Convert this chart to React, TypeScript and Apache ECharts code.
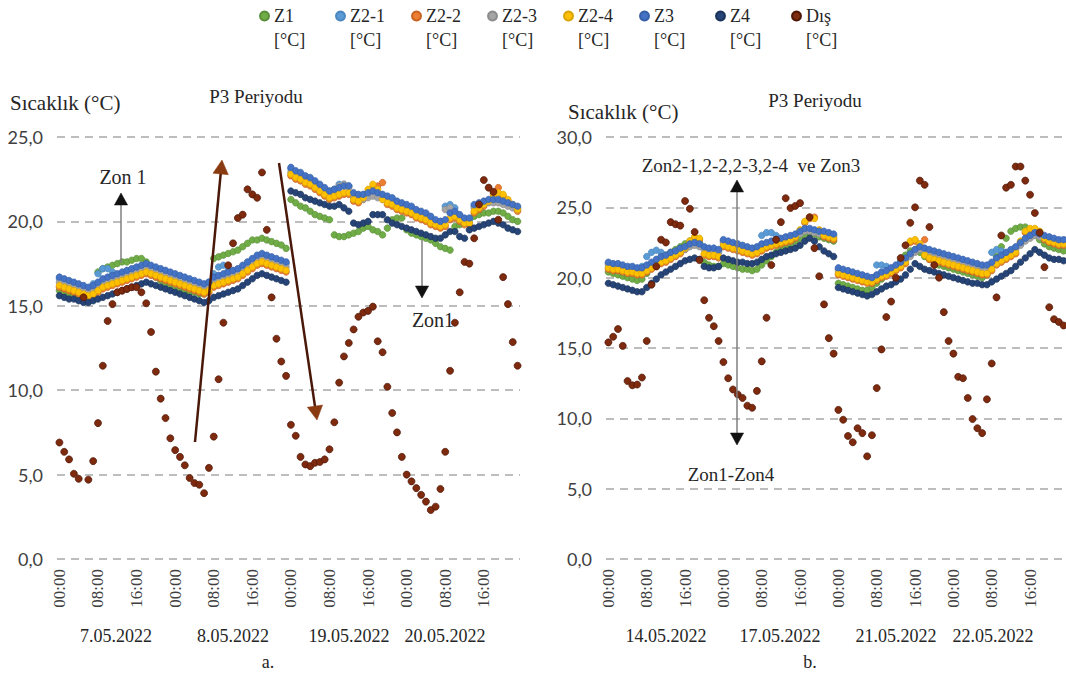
import React, { useEffect, useRef } from 'react';
import * as echarts from 'echarts';

const hourLabels = ['00:00','01:00','02:00','03:00','04:00','05:00','06:00','07:00','08:00','09:00','10:00','11:00','12:00','13:00','14:00','15:00','16:00','17:00','18:00','19:00','20:00','21:00','22:00','23:00'];
const daysA = ['7.05.2022', '8.05.2022', '19.05.2022', '20.05.2022'];
const daysB = ['14.05.2022', '17.05.2022', '21.05.2022', '22.05.2022'];
const seriesNames = ['Z1', 'Z2-1', 'Z2-2', 'Z2-3', 'Z2-4', 'Z3', 'Z4', 'Dış'];
const yTicksA = [0, 5, 10, 15, 20, 25];
const yTicksB = [0, 5, 10, 15, 20, 25, 30];

// ---------- Panel a (7-8.05 / 19-20.05) ----------
const z1A = [
15.9,15.8,15.7,15.6,15.5,15.5,15.4,15.6,17.0,17.2,17.3,17.4,17.5,17.6,17.6,17.7,17.8,17.8,17.6,17.0,16.7,16.5,16.3,16.2,
16.1,16.0,15.9,15.8,15.8,15.7,15.7,16.3,17.8,17.9,18.0,18.1,18.2,18.3,18.5,18.7,18.9,18.9,19.0,18.9,18.8,18.7,18.6,18.4,
21.3,21.1,20.9,20.8,20.6,20.4,20.3,20.2,20.1,19.2,19.1,19.1,19.2,19.3,19.4,19.6,19.7,19.5,19.4,19.2,19.6,20.1,20.2,20.2,
19.5,19.3,19.2,19.1,19.0,18.9,18.7,18.5,18.4,18.3,19.7,19.8,19.9,20.1,20.3,20.4,20.5,20.5,20.6,20.6,20.5,20.3,20.1,20.0];
const z21A = [
16.6,16.5,16.4,16.3,16.2,16.1,16.0,16.3,16.9,17.2,17.2,17.0,16.8,16.9,17.0,17.1,17.2,17.3,17.4,17.3,17.2,17.1,17.0,16.9,
16.8,16.7,16.6,16.5,16.4,16.3,16.2,16.4,16.9,17.3,17.4,17.1,17.0,17.1,17.3,17.5,17.7,17.9,18.0,17.9,17.8,17.7,17.6,17.5,
23.1,22.9,22.8,22.6,22.5,22.3,22.1,21.9,21.8,21.9,22.2,22.2,22.1,21.6,21.5,21.5,21.6,21.7,21.6,21.5,21.4,21.3,21.1,21.0,
20.9,20.8,20.6,20.5,20.4,20.2,20.0,20.0,20.9,21.0,20.8,20.3,20.1,20.1,20.9,21.0,21.1,21.2,21.2,21.2,21.1,21.0,20.9,20.8];
const z22A = [
16.1,16.0,15.9,15.8,15.7,15.6,15.5,15.6,15.8,16.0,16.1,16.2,16.3,16.4,16.5,16.6,16.7,16.8,16.9,16.8,16.7,16.6,16.5,16.4,
16.3,16.2,16.1,16.0,15.9,15.8,15.7,15.8,16.1,16.2,16.3,16.4,16.5,16.6,16.8,17.0,17.2,17.4,17.5,17.4,17.3,17.2,17.1,17.0,
22.7,22.5,22.4,22.2,22.1,21.9,21.7,21.5,21.3,21.4,21.5,21.6,21.6,21.2,21.1,21.3,21.7,22.0,22.1,22.3,21.0,20.9,20.7,20.6,
20.5,20.4,20.2,20.1,20.0,19.8,19.7,19.6,19.7,20.1,20.2,20.0,19.8,19.8,20.5,20.7,20.9,21.2,21.6,22.0,21.5,21.2,20.9,20.6];
const z23A = [
16.4,16.3,16.2,16.1,16.0,15.9,15.8,15.9,16.2,16.4,16.5,16.5,16.6,16.7,16.8,16.9,17.0,17.1,17.2,17.1,17.0,16.9,16.8,16.7,
16.6,16.5,16.4,16.3,16.2,16.1,16.0,16.1,16.5,16.7,16.7,16.7,16.8,16.9,17.1,17.3,17.5,17.7,17.8,17.7,17.6,17.5,17.4,17.3,
22.9,22.7,22.6,22.4,22.3,22.1,21.9,21.7,21.6,21.7,22.1,22.2,22.0,21.4,21.3,21.3,21.4,21.5,21.4,21.3,21.2,21.1,20.9,20.8,
20.7,20.6,20.4,20.3,20.2,20.0,19.9,19.8,20.7,20.8,20.5,20.1,19.9,19.9,20.8,20.9,21.0,21.1,21.1,21.1,21.0,20.9,20.8,20.7];
const z24A = [
16.2,16.1,16.0,15.9,15.8,15.7,15.6,15.7,15.9,16.1,16.2,16.3,16.4,16.5,16.6,16.7,16.8,16.9,17.0,16.9,16.8,16.7,16.6,16.5,
16.4,16.3,16.2,16.1,16.0,15.9,15.8,15.9,16.2,16.3,16.4,16.5,16.6,16.7,16.9,17.1,17.3,17.5,17.6,17.5,17.4,17.3,17.2,17.1,
22.8,22.6,22.5,22.3,22.2,22.0,21.8,21.6,21.4,21.5,21.6,21.7,21.7,21.3,21.2,21.4,21.9,22.2,21.9,21.3,21.1,21.0,20.8,20.7,
20.6,20.5,20.3,20.2,20.1,19.9,19.8,19.7,19.8,20.2,20.3,20.1,19.9,19.9,20.6,20.8,21.0,21.2,21.5,21.7,21.6,21.3,21.0,20.7];
const z3A = [
16.7,16.6,16.5,16.4,16.3,16.2,16.1,16.2,16.4,16.6,16.7,16.8,16.9,17.0,17.1,17.2,17.3,17.4,17.5,17.4,17.3,17.2,17.1,17.0,
16.9,16.8,16.7,16.6,16.5,16.4,16.3,16.4,16.7,16.8,16.9,17.0,17.1,17.2,17.4,17.6,17.8,18.0,18.1,18.0,17.9,17.8,17.7,17.6,
23.2,23.0,22.9,22.7,22.6,22.4,22.2,22.0,21.8,21.9,22.0,22.1,22.1,21.7,21.6,21.6,21.7,21.8,21.7,21.6,21.5,21.4,21.2,21.1,
21.0,20.9,20.7,20.6,20.5,20.3,20.1,20.0,20.1,20.5,20.6,20.4,20.2,20.2,21.0,21.1,21.2,21.3,21.3,21.3,21.2,21.1,21.0,20.9];
const z4A = [
15.6,15.5,15.4,15.4,15.3,15.2,15.2,15.3,15.4,15.5,15.6,15.7,15.8,15.9,16.0,16.1,16.2,16.3,16.4,16.3,16.2,16.1,16.0,15.9,
15.8,15.7,15.6,15.5,15.4,15.3,15.2,15.3,15.5,15.6,15.7,15.8,15.9,16.0,16.2,16.4,16.6,16.8,16.9,16.8,16.7,16.6,16.5,16.4,
21.8,21.7,21.6,21.4,21.3,21.2,21.1,21.0,20.9,20.9,21.0,20.8,20.6,19.9,19.8,19.9,20.0,20.4,20.4,20.4,20.1,19.9,19.8,19.7,
19.6,19.5,19.4,19.3,19.2,19.1,19.0,19.0,19.2,19.4,19.4,19.1,19.0,19.5,19.6,19.7,19.8,19.9,20.0,19.9,19.8,19.6,19.5,19.4];
const disA = [
6.9,6.35,5.9,5.05,4.75,15.5,4.7,5.8,8.05,11.45,14.1,15.1,15.8,15.9,16.0,16.1,16.1,15.8,15.15,13.45,11.1,9.5,8.35,7.15,
6.45,6.05,5.55,4.8,4.5,4.4,3.9,5.4,7.25,10.65,14.0,17.4,18.7,20.2,20.4,21.9,21.6,21.4,22.9,19.5,15.5,13.05,11.7,10.85,
7.95,7.3,6.05,5.6,5.5,5.7,5.75,5.9,6.5,8.1,10.45,12.0,12.8,13.6,14.35,14.6,14.7,14.95,12.9,12.25,10.2,8.65,7.5,6.05,
5.0,4.6,4.2,3.8,3.4,2.9,3.1,4.15,6.35,11.15,14.0,15.8,17.6,17.5,19.0,21.0,22.45,22.0,21.75,20.1,16.7,15.1,12.85,11.45];

// ---------- Panel b (14/17/21/22.05) ----------
const z1B = [
20.4,20.3,20.2,20.1,20.0,19.9,19.8,19.9,20.3,20.7,21.1,21.4,21.6,21.8,22.0,22.2,22.4,22.6,22.7,22.5,21.1,20.9,20.8,20.8,
21.0,20.9,20.8,20.7,20.6,20.6,20.5,20.6,20.9,21.2,21.5,21.8,22.0,22.2,22.4,22.6,22.8,23.0,23.2,23.1,22.9,22.8,22.7,22.6,
19.6,19.5,19.4,19.3,19.2,19.1,19.1,19.3,19.6,19.9,20.2,20.5,20.8,21.2,21.6,21.9,22.0,21.8,21.5,21.3,21.1,20.9,20.8,20.7,
20.6,20.5,20.4,20.3,20.2,20.1,20.0,20.2,20.8,21.5,22.2,22.8,23.3,23.5,23.6,23.6,23.4,23.0,22.7,22.4,22.2,22.1,22.0,21.9];
const z21B = [
21.0,20.9,20.9,20.8,20.7,20.7,20.6,20.8,21.5,21.8,21.95,21.8,21.5,21.7,21.8,22.0,22.1,22.3,22.4,22.3,22.1,22.0,22.0,21.9,
22.6,22.5,22.4,22.3,22.2,22.1,22.0,22.1,23.0,23.2,23.2,23.0,22.7,22.8,22.9,23.0,23.2,23.4,23.4,23.3,23.2,23.2,23.1,23.0,
20.6,20.5,20.4,20.3,20.2,20.1,20.0,20.0,20.9,20.9,20.8,20.6,20.8,21.0,21.3,21.6,21.9,22.1,22.0,21.9,21.8,21.7,21.6,21.5,
21.4,21.3,21.2,21.1,21.0,20.9,20.8,20.8,21.8,22.0,21.9,21.7,21.9,22.1,22.4,22.7,22.9,23.1,23.0,22.9,22.8,22.7,22.6,22.6];
const z22B = [
20.6,20.5,20.5,20.4,20.3,20.3,20.2,20.2,20.4,20.6,20.8,21.0,21.1,21.3,21.5,21.7,22.0,22.5,22.8,22.7,21.6,21.5,21.5,21.4,
22.2,22.1,22.0,21.9,21.8,21.7,21.6,21.7,21.9,22.1,22.2,22.3,22.4,22.5,22.6,22.8,23.3,23.9,24.2,24.3,23.3,22.9,22.8,22.7,
20.2,20.1,20.0,19.9,19.8,19.7,19.6,19.6,19.8,20.0,20.1,20.3,20.5,20.7,21.0,22.5,22.6,22.3,22.7,21.3,21.2,21.1,21.0,20.9,
20.8,20.7,20.6,20.5,20.4,20.3,20.2,20.2,20.5,20.9,21.1,21.3,21.5,21.7,22.5,23.2,23.4,23.4,23.2,22.7,22.5,22.4,22.3,22.3];
const z23B = [
20.9,20.8,20.8,20.7,20.6,20.6,20.5,20.5,20.7,20.9,21.1,21.3,21.4,21.6,21.7,21.9,22.0,22.2,22.3,22.2,22.0,21.9,21.9,21.8,
22.5,22.4,22.3,22.2,22.1,22.0,21.9,22.0,22.2,22.3,22.4,22.5,22.6,22.7,22.8,22.9,23.1,23.3,23.3,23.2,23.1,23.1,23.0,22.9,
20.5,20.4,20.3,20.2,20.1,20.0,19.9,19.8,20.0,20.2,20.3,20.5,20.7,20.9,21.2,21.5,21.8,22.0,21.9,21.8,21.7,21.6,21.5,21.4,
21.3,21.2,21.1,21.0,20.9,20.8,20.7,20.7,20.9,21.2,21.4,21.6,21.8,22.0,22.3,22.6,22.8,23.0,22.9,22.8,22.7,22.6,22.5,22.5];
const z24B = [
20.7,20.6,20.6,20.5,20.4,20.4,20.3,20.3,20.5,20.7,20.9,21.1,21.2,21.4,21.6,21.8,22.1,22.6,22.9,22.8,21.7,21.6,21.6,21.5,
22.3,22.2,22.1,22.0,21.9,21.8,21.7,21.8,22.0,22.2,22.3,22.4,22.5,22.6,22.7,22.9,23.4,24.0,24.3,24.2,23.4,23.0,22.9,22.8,
20.3,20.2,20.1,20.0,19.9,19.8,19.7,19.7,19.9,20.1,20.2,20.4,20.6,20.8,21.1,22.6,22.7,22.4,21.6,21.4,21.3,21.2,21.1,21.0,
20.9,20.8,20.7,20.6,20.5,20.4,20.3,20.3,20.6,21.0,21.2,21.4,21.6,21.8,22.6,23.3,23.5,23.5,23.3,22.8,22.6,22.5,22.4,22.4];
const z3B = [
21.1,21.0,21.0,20.9,20.8,20.8,20.7,20.7,20.9,21.1,21.3,21.5,21.6,21.8,21.9,22.1,22.2,22.4,22.5,22.4,22.2,22.1,22.1,22.0,
22.7,22.6,22.5,22.4,22.3,22.2,22.1,22.2,22.4,22.5,22.6,22.7,22.8,22.9,23.0,23.1,23.3,23.5,23.5,23.4,23.3,23.3,23.2,23.1,
20.7,20.6,20.5,20.4,20.3,20.2,20.1,20.0,20.2,20.4,20.5,20.7,20.9,21.1,21.4,21.7,22.0,22.2,22.1,22.0,21.9,21.8,21.7,21.6,
21.5,21.4,21.3,21.2,21.1,21.0,20.9,20.9,21.1,21.4,21.6,21.8,22.0,22.2,22.5,22.8,23.0,23.2,23.1,23.0,22.9,22.8,22.7,22.7];
const z4B = [
19.6,19.5,19.4,19.3,19.2,19.1,19.0,19.0,19.3,19.6,19.9,20.2,20.4,20.6,20.8,21.0,21.2,21.3,21.4,21.3,20.8,20.7,20.7,20.8,
21.4,21.3,21.2,21.1,21.1,21.0,21.0,21.1,21.3,21.5,21.6,21.7,21.8,21.9,22.0,22.1,22.3,22.6,22.8,22.6,22.2,21.9,21.7,21.5,
19.3,19.2,19.1,19.0,18.9,18.8,18.7,18.8,19.0,19.2,19.4,19.5,19.7,19.9,20.2,20.6,21.0,20.8,20.6,20.5,20.4,20.3,20.2,20.1,
20.0,19.9,19.8,19.7,19.6,19.6,19.5,19.5,19.7,19.9,20.1,20.3,20.5,20.8,21.1,21.4,21.7,22.0,21.8,21.6,21.4,21.3,21.3,21.2];
const disB = [
15.4,15.8,16.35,15.15,12.65,12.35,12.4,12.9,15.5,19.5,20.8,22.7,22.5,23.95,23.8,23.7,25.45,24.9,23.25,21.25,18.4,17.15,16.55,15.5,
14.0,12.85,12.05,11.7,11.45,10.9,10.75,11.95,14.05,17.15,20.9,22.7,23.95,25.65,24.95,25.1,25.3,null,24.3,22.1,20.1,18.1,15.7,14.6,
10.6,9.9,8.75,8.3,9.3,8.95,7.3,8.8,12.15,14.9,17.2,18.3,20.0,21.4,22.3,23.9,25.0,26.9,26.6,23.6,20.9,20.0,17.55,15.5,
14.6,12.95,12.85,11.45,9.95,9.3,8.95,11.35,13.9,18.6,23.0,26.4,26.6,27.9,27.9,26.9,25.9,24.6,23.2,20.75,17.9,17.05,16.85,16.6];

const panelA = [z1A, z21A, z22A, z23A, z24A, z3A, z4A, disA];
const panelB = [z1B, z21B, z22B, z23B, z24B, z3B, z4B, disB];

const COLORS = ['#70AD47', '#5B9BD5', '#ED7D31', '#A5A5A5', '#FFC000', '#4472C4', '#264478', '#7E2A0E'];
const BORDERS = ['#5a8f38', '#4a86bf', '#c8621f', '#8c8c8c', '#d9a300', '#3760a8', '#1b3358', '#4d1606'];
const SERIF = 'Liberation Serif';
const SANS = 'Lato';
const TXT = '#262626';

const legendName = (n: string) => n + '\n[°C]';
const fmt = (v: number) => v.toFixed(1).replace('.', ',');

function arrow(x1: number, y1: number, x2: number, y2: number, lineColor: string, headColor: string, lw: number, head: number, both = false) {
  const els: any[] = [];
  const ang = Math.atan2(y2 - y1, x2 - x1);
  const c = Math.cos(ang), s = Math.sin(ang);
  const w = head * 0.55;
  const mk = (tx: number, ty: number, dirc: number, dirs: number) => ({
    type: 'polygon', z: 20,
    shape: { points: [[tx, ty], [tx - head * dirc + w * dirs, ty - head * dirs - w * dirc], [tx - head * dirc - w * dirs, ty - head * dirs + w * dirc]] },
    style: { fill: headColor, stroke: headColor, lineWidth: 0.5 },
  });
  const sx = both ? x1 + c * head * 0.8 : x1;
  const sy = both ? y1 + s * head * 0.8 : y1;
  els.push({ type: 'line', z: 19, shape: { x1: sx, y1: sy, x2: x2 - c * head * 0.8, y2: y2 - s * head * 0.8 }, style: { stroke: lineColor, lineWidth: lw } });
  els.push(mk(x2, y2, c, s));
  if (both) els.push(mk(x1, y1, -c, -s));
  return els;
}

function text(t: string, x: number, y: number, size: number, align = 'center', family = SERIF) {
  return { type: 'text', z: 21, x, y, style: { text: t, fontSize: size, fontFamily: family, fill: TXT, textAlign: align, textVerticalAlign: 'middle' } };
}

export default function App() {
  const ref = useRef<HTMLDivElement>(null);
  useEffect(() => {
    if (!ref.current) return;
    const chart = echarts.init(ref.current, undefined, { renderer: 'svg' });
    const catsA = daysA.flatMap((d) => hourLabels.map((h) => d + ' ' + h));
    const catsB = daysB.flatMap((d) => hourLabels.map((h) => d + ' ' + h));

    const xAxisBase = (gridIndex: number, data: string[]) => ({
      gridIndex, type: 'category', data, boundaryGap: true,
      axisLine: { show: false }, axisTick: { show: false }, splitLine: { show: false },
      axisLabel: {
        interval: (i: number) => i % 8 === 0,
        formatter: (v: string) => v.split(' ')[1],
        rotate: 90, fontFamily: SERIF, fontSize: 17, color: '#404040', margin: 10,
      },
    });
    const yAxisBase = (gridIndex: number, ticks: number[]) => ({
      gridIndex, type: 'value', min: ticks[0], max: ticks[ticks.length - 1], interval: ticks[1] - ticks[0],
      axisLine: { show: false }, axisTick: { show: false },
      axisLabel: { formatter: fmt, fontFamily: SANS, fontSize: 18, color: '#404040', margin: 14 },
      splitLine: { show: true, lineStyle: { type: [8, 6], color: '#bdbdbd', width: 2 } },
    });

    const series: any[] = [];
    [panelA, panelB].forEach((panel, p) => {
      panel.forEach((arr, i) => {
        series.push({
          name: legendName(seriesNames[i]), type: 'scatter', xAxisIndex: p, yAxisIndex: p,
          data: arr.map((v) => (v == null ? '-' : v)),
          symbol: 'circle', symbolSize: i === 7 ? 7 : 6.5,
          itemStyle: { color: COLORS[i], borderColor: BORDERS[i], borderWidth: 0.7, opacity: 1 },
          emphasis: { disabled: true },
        });
      });
    });

    const graphic: any[] = [
      text('Sıcaklık (°C)', 10, 103, 21, 'left'),
      text('Sıcaklık (°C)', 568, 112, 21, 'left'),
      text('P3 Periyodu', 256, 96, 19),
      text('P3 Periyodu', 815, 100, 19),
      text('a.', 268, 662, 18),
      text('b.', 810, 662, 18),
      text('Zon 1', 123, 177, 20),
      text('Zon1', 433, 320, 20),
      text('Zon2-1,2-2,2-3,2-4  ve Zon3', 751, 165, 19),
      text('Zon1-Zon4', 731, 474, 19),
    ];
    const datePosA = [116, 233, 349, 445];
    const datePosB = [666, 780, 896, 993];
    daysA.forEach((d, i) => graphic.push(text(d, datePosA[i], 636, 18)));
    daysB.forEach((d, i) => graphic.push(text(d, datePosB[i], 636, 18)));
    graphic.push(...arrow(195, 442, 222, 160, '#4a1808', '#8a3a10', 2.5, 14));
    graphic.push(...arrow(279, 163, 317, 420, '#4a1808', '#8a3a10', 2.5, 14));
    graphic.push(...arrow(121, 263, 121, 193, '#7f7f7f', '#111111', 1.5, 12));
    graphic.push(...arrow(422, 240, 422, 298, '#7f7f7f', '#111111', 1.5, 12));
    graphic.push(...arrow(737, 445, 737, 180, '#7f7f7f', '#111111', 1.5, 12, true));

    chart.setOption({
      animation: false,
      backgroundColor: '#ffffff',
      legend: {
        top: -25, left: 254, icon: 'circle', itemWidth: 9, itemHeight: 9, itemGap: 9,
        data: seriesNames.map(legendName),
        formatter: (name: string) => ' \n' + name,
        textStyle: { fontFamily: SERIF, fontSize: 18, lineHeight: 24, color: TXT, width: 52 },
        selectedMode: false,
      },
      grid: [
        { left: 57, top: 137, width: 463, height: 422, containLabel: false },
        { left: 606, top: 137, width: 460, height: 422, containLabel: false },
      ],
      xAxis: [xAxisBase(0, catsA), xAxisBase(1, catsB)],
      yAxis: [yAxisBase(0, yTicksA), yAxisBase(1, yTicksB)],
      series,
      graphic,
    } as any);
    return () => chart.dispose();
  }, []);
  return <div ref={ref} style={{ position: 'absolute', left: 0, top: 0, width: 1066, height: 679, background: '#fff' }} />;
}
